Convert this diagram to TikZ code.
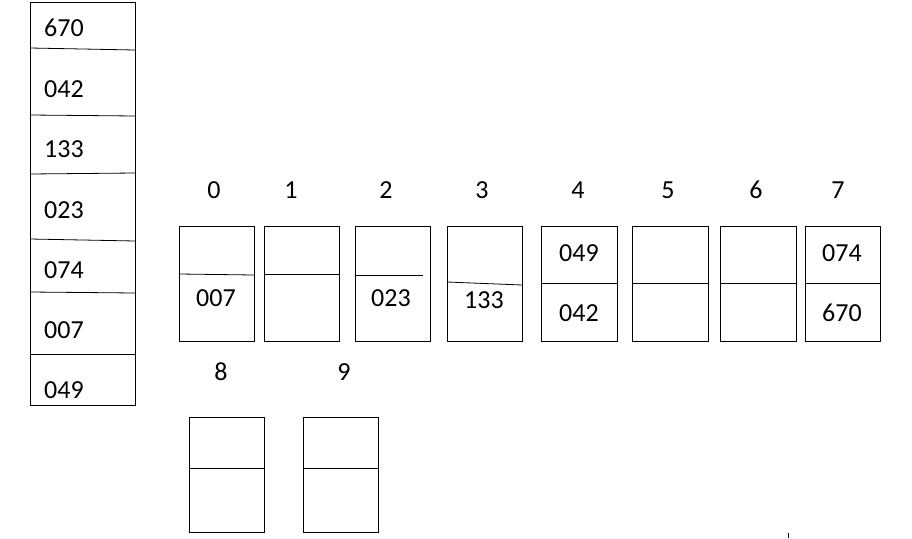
\documentclass[tikz,border=0pt]{standalone}
\usepackage{fontspec}
\setmainfont{Carlito}
\begin{document}
\begin{tikzpicture}[x=1pt,y=-1pt,
  box/.style={draw,line width=0.8pt},
  txt/.style={font=\fontsize{26}{28}\selectfont,inner sep=0pt},
  ln/.style={line width=0.8pt}]
\useasboundingbox (0,0) rectangle (912,538);
% left column
\draw[box] (30,2) rectangle (135,405);
\draw[ln] (30,48)--(135,50);
\draw[ln] (30,115)--(135,116);
\draw[ln] (30,174)--(135,173);
\draw[ln] (30,239)--(135,241);
\draw[ln] (30,292)--(135,293);
\draw[ln] (30,354)--(135,354);
\foreach \t/\y [count=\i] in {670/28,042/89,133/149,023/210,074/270,007/330,049/390}
  \node[txt,anchor=west] (c\i) at (44,\y) {\t};
% buckets
\foreach \n/\xa/\xb/\lx [count=\i] in {0/179/254/214,1/264/339/291,2/355/430/386,3/447/522/482,4/541/617/578,5/632/708/668,6/720/796/756,7/805/880/838}{
  \draw[box] (\xa,226) rectangle (\xb,341);
  \node[txt] (l\n) at (\lx,190) {\n};
}
\draw[ln] (179,274)--(254,275);
\draw[ln] (264,274)--(339,274);
\draw[ln] (355,275)--(423,275);
\draw[ln] (447,282)--(522,285);
\draw[ln] (541,283)--(617,283);
\draw[ln] (632,283)--(708,283);
\draw[ln] (720,283)--(796,283);
\draw[ln] (805,283)--(880,283);
\node[txt] (b0) at (216,298) {007};
\node[txt] (b2) at (391,298) {023};
\node[txt] (b3) at (484,300) {133};
\node[txt] (b4a) at (579,253) {049};
\node[txt] (b4b) at (579,313) {042};
\node[txt] (b7a) at (842,253) {074};
\node[txt] (b7b) at (842,313) {670};
% 8 and 9
\node[txt] (l8) at (221,372) {8};
\node[txt] (l9) at (344,372) {9};
\draw[box] (189,417) rectangle (264,532);
\draw[ln] (189,468)--(264,468);
\draw[box] (303,417) rectangle (378,532);
\draw[ln] (303,468)--(378,468);
\draw[ln] (788,533)--(788,538);
\end{tikzpicture}
\end{document}
